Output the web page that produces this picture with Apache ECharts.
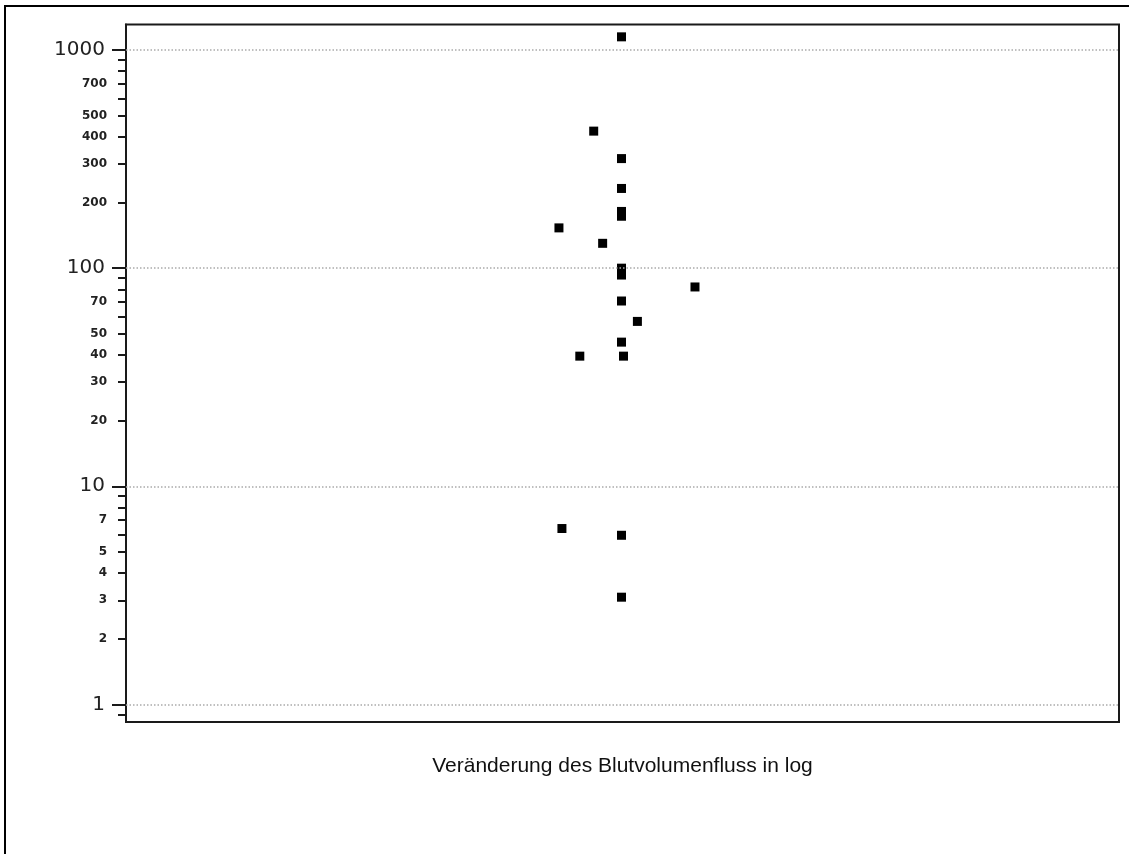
<!DOCTYPE html>
<html>
<head>
<meta charset="utf-8">
<script src="https://cdn.jsdelivr.net/npm/echarts@6/dist/echarts.min.js"></script>
<style>
  html, body { margin: 0; padding: 0; background: #ffffff; }
  #chart { width: 1129px; height: 854px; }
</style>
</head>
<body>
<div id="chart"></div>
<script>
// Horizontal position of each point (0–100 scale, points are spread around the middle)
const xPos = [49.9, 47.1, 49.9, 49.9, 49.9, 49.9, 43.6, 48.0, 49.9, 49.9, 57.3, 49.9, 51.5, 49.9, 45.7, 50.1, 43.9, 49.9, 49.9];
// Change in blood volume flow (log scale)
const flowChange = [1150, 425, 318, 232, 182, 173, 153, 130, 100, 93, 82, 70.7, 57, 45.8, 39.5, 39.5, 6.4, 5.96, 3.1];

// Axis range and tick sets
const yMin = 0.83;
const yMax = 1310;
const majorTicks = [1, 10, 100, 1000];
const labeledMinor = [2, 3, 4, 5, 7, 20, 30, 40, 50, 70, 200, 300, 400, 500, 700];
const unlabeledMinor = [0.9, 6, 8, 9, 60, 80, 90, 600, 800, 900];
const xTitle = 'Veränderung des Blutvolumenfluss in log';

const points = xPos.map((x, i) => [x, flowChange[i]]);
const minorTickValues = labeledMinor.concat(unlabeledMinor).sort((a, b) => a - b);
const labelValues = majorTicks.concat(labeledMinor).sort((a, b) => a - b);

const gridBox = { left: 126, top: 24.5, right: 10, bottom: 132 };
const ink = '#1a1a1a';

const chart = echarts.init(document.getElementById('chart'), null, { renderer: 'canvas' });
chart.setOption({
  animation: false,
  backgroundColor: '#ffffff',
  graphic: [{
    type: 'polyline',
    shape: { points: [[5, 854], [5, 6], [1129, 6]] },
    style: { stroke: '#000', lineWidth: 2, fill: null }
  }],
  grid: [
    Object.assign({ show: true, borderColor: ink, borderWidth: 2, backgroundColor: 'transparent' }, gridBox),
    Object.assign({ show: false }, gridBox)
  ],
  xAxis: [
    {
      gridIndex: 0, type: 'value', min: 0, max: 100,
      axisLine: { show: false }, axisTick: { show: false },
      axisLabel: { show: false }, splitLine: { show: false },
      name: xTitle, nameLocation: 'middle', nameGap: 34,
      nameTextStyle: { fontFamily: 'Liberation Sans, Arial, sans-serif', fontSize: 21, color: '#111' }
    },
    {
      gridIndex: 1, type: 'value', min: 0, max: 100, show: false
    }
  ],
  yAxis: [
    {
      gridIndex: 0, type: 'log', logBase: 10, min: yMin, max: yMax,
      axisLine: { show: true, lineStyle: { color: ink, width: 2 } },
      axisTick: { show: true, length: 14, customValues: majorTicks, lineStyle: { color: ink, width: 2 } },
      axisLabel: {
        customValues: labelValues,
        margin: 19,
        formatter: function (v) {
          const n = Number(v);
          return majorTicks.some(m => Math.abs(m - n) < 1e-9) ? '{big|' + n + '}' : '{small|' + n + '}';
        },
        rich: {
          big: { fontFamily: 'DejaVu Sans, sans-serif', fontSize: 20, color: '#222', padding: [0, 2, 0, 0] },
          small: { fontFamily: 'DejaVu Sans, sans-serif', fontSize: 12, fontWeight: 'bold', color: '#222' }
        }
      },
      splitLine: { show: false }
    },
    {
      gridIndex: 1, type: 'log', logBase: 10, min: yMin, max: yMax,
      axisLine: { show: false },
      axisTick: { show: true, length: 8, customValues: minorTickValues, lineStyle: { color: ink, width: 2 } },
      axisLabel: { show: false },
      splitLine: { show: false }
    }
  ],
  series: [{
    type: 'scatter',
    xAxisIndex: 0, yAxisIndex: 0,
    data: points,
    symbol: 'rect',
    symbolSize: 9,
    itemStyle: { color: '#000', opacity: 1 },
    markLine: {
      silent: true,
      symbol: 'none',
      label: { show: false },
      lineStyle: { color: '#aaaaaa', width: 1.5, type: [1.5, 2] },
      data: majorTicks.map(v => ({ yAxis: v }))
    }
  }]
});
</script>
</body>
</html>
